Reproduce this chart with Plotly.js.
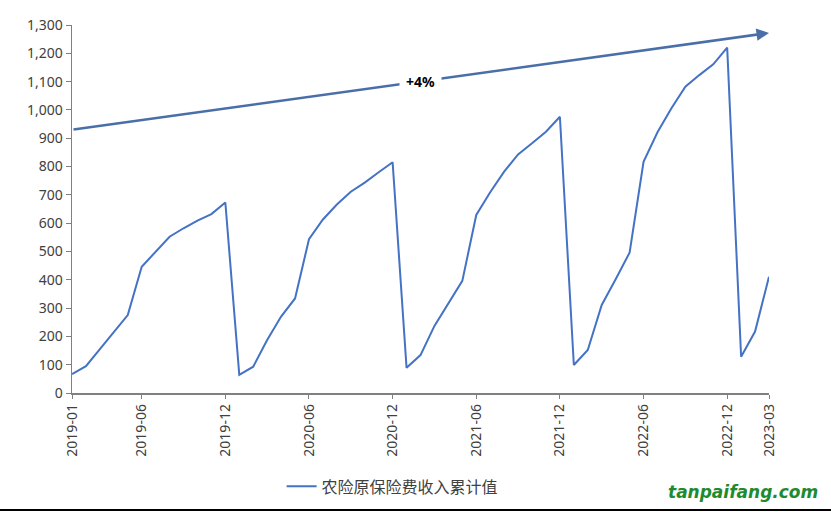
<!DOCTYPE html>
<html><head><meta charset="utf-8">
<script src="https://cdn.plot.ly/plotly-3.0.1.min.js"></script>
<style>html,body{margin:0;padding:0;background:#fff}#c{width:831px;height:512px}</style>
</head><body><div id="c"></div>
<script>
const months = [
 '2019-01','2019-02','2019-03','2019-04','2019-05','2019-06','2019-07','2019-08','2019-09','2019-10','2019-11','2019-12',
 '2020-01','2020-02','2020-03','2020-04','2020-05','2020-06','2020-07','2020-08','2020-09','2020-10','2020-11','2020-12',
 '2021-01','2021-02','2021-03','2021-04','2021-05','2021-06','2021-07','2021-08','2021-09','2021-10','2021-11','2021-12',
 '2022-01','2022-02','2022-03','2022-04','2022-05','2022-06','2022-07','2022-08','2022-09','2022-10','2022-11','2022-12',
 '2023-01','2023-02','2023-03'];
const premium = [
 67,95,155,215,275,446,500,552,582,609,632,673,
 64,93,187,270,334,543,613,666,711,743,780,815,
 89,134,237,317,396,629,709,782,843,882,923,976,
 99,152,311,402,496,817,921,1006,1082,1123,1161,1220,
 128,217,411];
const tickLabels = ['2019-01','2019-06','2019-12','2020-06','2020-12','2021-06','2021-12','2022-06','2022-12','2023-03'];
const trendStart = 930, trendEnd = 1272;
const trendLabel = '+4%';
const seriesName = '农险原保险费收入累计值';

const tickIdx = tickLabels.map(t => months.indexOf(t));
const xIdx = months.map((m,i)=>i);
const lastIdx = months.length - 1;
const labelIdx = 25;

const data = [{
  x: xIdx, y: premium, type:'scatter', mode:'lines', name: seriesName,
  line:{color:'#4472C4', width:2}
}];
const layout = {
  width:831, height:512,
  margin:{l:72, r:62, t:25, b:119, autoexpand:false},
  paper_bgcolor:'#fff', plot_bgcolor:'#fff',
  font:{family:'"Noto Sans", "Noto Sans CJK SC", sans-serif', color:'#404040', size:14},
  showlegend:true,
  legend:{orientation:'h', x:0.46, xanchor:'center', yref:'container', y:0.05, yanchor:'middle',
    font:{family:'"Noto Sans CJK SC", sans-serif', size:16, color:'#404040'}},
  xaxis:{range:[0,lastIdx], tickmode:'array', tickvals:tickIdx, ticktext:tickLabels, automargin:false,
    tickangle:-90, showgrid:false, zeroline:false, showline:true, linecolor:'#808080', linewidth:1.5,
    ticks:'outside', ticklen:4, tickcolor:'#808080', tickfont:{size:14, color:'#404040'}},
  yaxis:{range:[0,1300], dtick:100, tickformat:',d', showgrid:false, zeroline:false, automargin:false,
    showline:true, linecolor:'#808080', linewidth:1.5, ticks:'outside', ticklen:5, tickcolor:'#808080',
    tickfont:{size:14, color:'#404040'}},
  annotations:[
    {xref:'x', yref:'y', axref:'x', ayref:'y', x:lastIdx, y:trendEnd, ax:0, ay:trendStart,
     text:'', showarrow:true, arrowhead:2, arrowsize:1, arrowwidth:2.5, arrowcolor:'#4A6FA8'},
    {xref:'x', yref:'y', x:labelIdx, y:trendStart + (trendEnd-trendStart)*labelIdx/lastIdx,
     text:'<b>'+trendLabel+'</b>', showarrow:false, bgcolor:'#fff', borderpad:6,
     font:{size:14, color:'#000', family:'"Noto Sans", sans-serif'}},
    {xref:'paper', yref:'paper', x:1.073, y:-0.269, xanchor:'right', yanchor:'middle', showarrow:false,
     text:'<b><i>tanpaifang.com</i></b>', font:{size:17, color:'#1E8B2E', family:'"DejaVu Sans", sans-serif'}}
  ],
  shapes:[
    {type:'line', xref:'paper', yref:'paper', x0:-0.11, x1:1.1, y0:-0.318, y1:-0.318, line:{color:'#000', width:2}}
  ]
};
Plotly.newPlot('c', data, layout, {displayModeBar:false, staticPlot:true});
</script></body></html>
